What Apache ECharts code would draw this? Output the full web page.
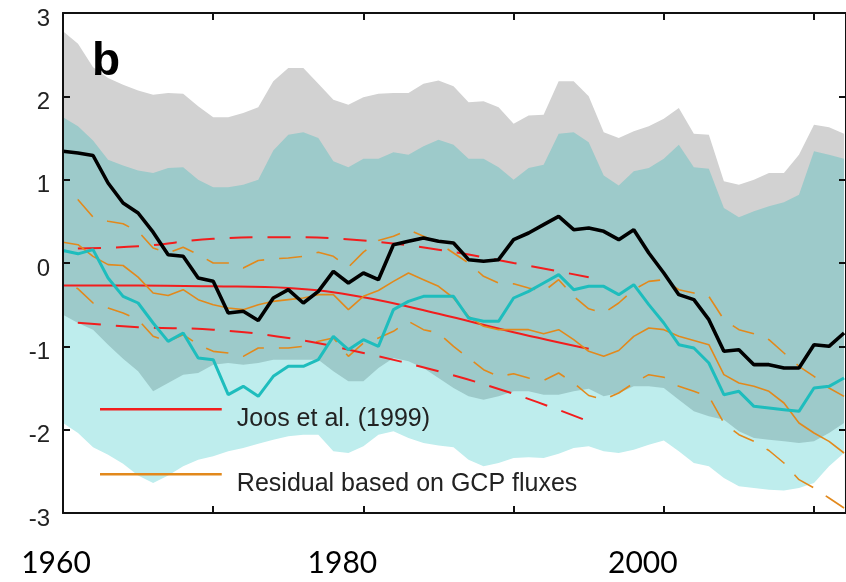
<!DOCTYPE html>
<html><head><meta charset="utf-8">
<script src="https://cdn.jsdelivr.net/npm/echarts@6/dist/echarts.min.js"></script>
<style>html,body{margin:0;padding:0;background:#fff}#c{width:846px;height:582px}</style>
</head><body><div id="c"></div>
<script>
const years = [1960,1961,1962,1963,1964,1965,1966,1967,1968,1969,1970,1971,1972,1973,1974,1975,1976,1977,1978,1979,1980,1981,1982,1983,1984,1985,1986,1987,1988,1989,1990,1991,1992,1993,1994,1995,1996,1997,1998,1999,2000,2001,2002,2003,2004,2005,2006,2007,2008,2009,2010,2011,2012];

const blackLine = [1.34,1.32,1.29,0.96,0.72,0.60,0.37,0.10,0.08,-0.18, -0.22,-0.60,-0.58,-0.69,-0.42,-0.32,-0.48,-0.34,-0.10,-0.24, -0.12,-0.20,0.22,0.26,0.30,0.26,0.24,0.04,0.02,0.04, 0.28,0.36,0.46,0.56,0.40,0.42,0.38,0.28,0.40,0.12, -0.12,-0.38,-0.44,-0.68,-1.06,-1.04,-1.22,-1.22,-1.26,-1.26, -0.98,-1.00,-0.84];
const cyanLine = [0.15,0.11,0.16,-0.18,-0.40,-0.48,-0.72,-0.94,-0.84,-1.14, -1.16,-1.58,-1.48,-1.60,-1.36,-1.24,-1.24,-1.16,-0.88,-1.04, -0.92,-1.00,-0.56,-0.46,-0.40,-0.40,-0.40,-0.66,-0.70,-0.70, -0.42,-0.34,-0.24,-0.14,-0.32,-0.28,-0.28,-0.38,-0.26,-0.50, -0.72,-0.98,-1.02,-1.20,-1.58,-1.54,-1.72,-1.74,-1.76,-1.78, -1.50,-1.48,-1.38];
const residualMid = [0.25,0.22,0.08,-0.02,-0.03,-0.17,-0.36,-0.39,-0.32,-0.44, -0.50,-0.54,-0.56,-0.50,-0.46,-0.44,-0.42,-0.38,-0.38,-0.56, -0.40,-0.33,-0.22,-0.12,-0.20,-0.28,-0.42,-0.64,-0.76,-0.80, -0.80,-0.80,-0.85,-0.80,-0.92,-1.06,-1.12,-1.05,-0.88,-0.78, -0.80,-0.88,-0.93,-0.98,-1.34,-1.44,-1.48,-1.54,-1.68,-1.92, -2.04,-2.14,-2.28];
const residualUpper = [0.80,0.76,0.55,0.50,0.47,0.38,0.18,0.12,0.19,0.10, 0.00,0.00,-0.06,0.03,0.05,0.06,0.08,0.13,0.08,-0.05, 0.13,0.27,0.32,0.40,0.32,0.24,0.12,0.00,-0.16,-0.24, -0.25,-0.30,-0.34,-0.20,-0.40,-0.55, -0.60,-0.48,-0.32,-0.22, -0.20,-0.32,-0.36,-0.40,-0.68,-0.80,-0.85,-0.92,-1.08,-1.24, -1.36,-1.50,-1.60];
const residualLower = [-0.22,-0.31,-0.48,-0.54,-0.60,-0.68,-0.88,-0.94,-0.86,-0.98, -1.06,-1.08,-1.12,-1.02,-1.02,-1.02,-1.00,-0.94,-0.90,-1.12, -0.96,-0.90,-0.82,-0.70,-0.80,-0.84,-1.00,-1.14,-1.28,-1.36, -1.33,-1.38,-1.41,-1.32,-1.44,-1.59,-1.64,-1.56,-1.44,-1.34, -1.37,-1.48,-1.54,-1.60,-1.92,-2.06,-2.14,-2.25,-2.40,-2.60, -2.70,-2.82,-2.94];

const joosYears = [1960,1965,1970,1975,1980,1985,1990,1995];
const joosMid = [-0.27,-0.27,-0.28,-0.30,-0.41,-0.61,-0.83,-1.03];
const joosUpper = [0.17,0.20,0.29,0.31,0.27,0.16,0.00,-0.17];
const joosLower = [-0.70,-0.77,-0.80,-0.90,-1.08,-1.30,-1.57,-1.90];

const grayUpper = [2.78,2.63,2.35,2.22,2.14,2.07,2.02,2.04,2.03,1.88, 1.75,1.75,1.80,1.87,2.18,2.34,2.34,2.15,1.96,1.90, 1.99,2.03,2.04,2.04,2.15,2.19,2.12,1.93,1.94,1.87, 1.67,1.77,1.78,2.18,2.18,2.00,1.57,1.50,1.58,1.64, 1.73,1.86,1.55,1.54,0.98,0.94,1.00,1.08,1.08,1.30, 1.66,1.63,1.55];
const grayLower = [-0.62,-0.72,-0.80,-0.98,-1.15,-1.30,-1.54,-1.44,-1.34,-1.32, -1.22,-1.20,-1.22,-1.20,-1.16,-1.16,-1.16,-1.16,-1.30,-1.42, -1.42,-1.26,-1.14,-1.18,-1.26,-1.38,-1.50,-1.60,-1.64,-1.60, -1.54,-1.54,-1.58,-1.58,-1.54,-1.51,-1.60,-1.56,-1.48,-1.48, -1.50,-1.64,-1.78,-1.84,-1.88,-2.02,-2.10,-2.12,-2.14,-2.16, -2.14,-2.04,-1.92];
const cyanUpper = [1.75,1.64,1.47,1.24,1.17,1.11,1.08,1.14,1.15,1.00, 0.91,0.91,0.94,1.00,1.35,1.54,1.57,1.50,1.22,1.15, 1.25,1.25,1.33,1.30,1.40,1.48,1.42,1.25,1.25,1.15, 1.00,1.14,1.18,1.55,1.57,1.45,1.05,0.93,1.10,1.14, 1.25,1.42,1.15,1.13,0.66,0.55,0.62,0.68,0.73,0.82, 1.34,1.30,1.25];
const cyanLower = [-1.92,-2.04,-2.21,-2.30,-2.41,-2.55,-2.64,-2.55,-2.44,-2.36, -2.32,-2.26,-2.22,-2.17,-2.12,-2.08,-2.06,-2.06,-2.26,-2.28, -2.20,-2.06,-2.02,-2.10,-2.16,-2.19,-2.21,-2.36,-2.44,-2.40, -2.34,-2.33,-2.34,-2.29,-2.22,-2.20,-2.26,-2.28,-2.24,-2.18, -2.13,-2.26,-2.40,-2.44,-2.58,-2.68,-2.70,-2.72,-2.73,-2.70, -2.64,-2.44,-2.28];

const yTickLabels = ['-3','-2','-1','0','1','2','3'];
const xTickLabels = [1960, 1980, 2000];
const legendNames = ['Joos et al. (1999)', 'Residual based on GCP fluxes'];

const pairs = (xs, ys) => xs.map((x, i) => [x, ys[i]]);

const RED = '#f21d1d', ORANGE = '#e2891c', CYAN = '#1ebdbd';
const dash = [23, 15];

function band(name, arr, color) {
  return {
    name, type: 'line', data: pairs(years, arr), symbol: 'none', silent: true,
    lineStyle: { width: 0, opacity: 0 },
    areaStyle: { color, opacity: 1, origin: 'start' }, z: 1
  };
}
function line(name, xs, arr, color, width, type, z, smooth) {
  return {
    name, type: 'line', data: pairs(xs, arr), symbol: 'none', silent: true,
    smooth: smooth || false,
    itemStyle: { color },
    lineStyle: { color, width, type: type || 'solid', dashOffset: type ? 23 : 0 }, z
  };
}

const chart = echarts.init(document.getElementById('c'), null, { renderer: 'canvas' });
const axisLineStyle = { color: '#111', width: 2 };
const legendIcon = 'path://M0,0L122,0L122,2.5L0,2.5Z M0,23L0.05,23L0.05,23.05L0,23.05Z';
const legendText = { fontFamily: 'Liberation Sans', fontSize: 25, color: '#222', padding: [0, 0, 0, 10] };
chart.setOption({
  animation: false,
  backgroundColor: '#fff',
  grid: { left: 63, top: 13, width: 784, height: 500, containLabel: false },
  xAxis: [{
    type: 'value', min: 1960, max: 2012.13, interval: 10, position: 'bottom', z: 10,
    splitLine: { show: false },
    axisLine: { show: true, onZero: false, lineStyle: axisLineStyle },
    axisTick: { show: true, inside: true, length: 7, lineStyle: axisLineStyle },
    axisLabel: {
      margin: 35, showMinLabel: true, showMaxLabel: false,
      formatter: v => {
        if (!xTickLabels.includes(v)) return '';
        return v === 1960 ? '{a|' + v + '}' : '{b|' + v + '}';
      },
      rich: {
        a: { fontFamily: 'Lato', fontSize: 30, color: '#000', padding: [0, 14, 0, 0] },
        b: { fontFamily: 'Lato', fontSize: 30, color: '#000', padding: [0, 42, 0, 0] }
      }
    }
  }, {
    type: 'value', min: 1960, max: 2012.13, interval: 10, position: 'top', z: 10,
    splitLine: { show: false },
    axisLine: { show: true, onZero: false, lineStyle: axisLineStyle },
    axisTick: { show: true, inside: true, length: 7, lineStyle: axisLineStyle },
    axisLabel: { show: false }
  }],
  yAxis: [{
    type: 'value', min: -3, max: 3, interval: 1, position: 'left', z: 10,
    splitLine: { show: false },
    axisLine: { show: true, onZero: false, lineStyle: axisLineStyle },
    axisTick: { show: true, inside: true, length: 7, lineStyle: axisLineStyle },
    axisLabel: {
      margin: 13, fontFamily: 'Liberation Sans', fontSize: 24, color: '#222',
      verticalAlign: 'top', lineHeight: 12,
      formatter: v => yTickLabels[Math.round(v) + 3]
    }
  }, {
    type: 'value', min: -3, max: 3, interval: 1, position: 'right', z: 10,
    splitLine: { show: false },
    axisLine: { show: true, onZero: false, lineStyle: axisLineStyle },
    axisTick: { show: true, inside: true, length: 7, lineStyle: axisLineStyle },
    axisLabel: { show: false }
  }],
  legend: [{
    data: [legendNames[0]], orient: 'vertical', left: 95, top: 402,
    icon: legendIcon, itemWidth: 122, itemHeight: 23, selectedMode: false,
    textStyle: legendText
  }, {
    data: [legendNames[1]], orient: 'vertical', left: 95, top: 467,
    icon: legendIcon, itemWidth: 122, itemHeight: 23, selectedMode: false,
    textStyle: legendText
  }],
  graphic: [{
    type: 'text', left: 92, top: 39, z: 20,
    style: { text: 'b', font: 'bold 46px "Liberation Sans"', fill: '#000' }
  }],
  series: [
    band('grayTop', grayUpper, '#d2d2d2'),
    band('tealTop', cyanUpper, '#9dcaca'),
    band('cyanMid', grayLower, '#beeded'),
    band('whiteBottom', cyanLower, '#ffffff'),
    line('Residual upper', years, residualUpper, ORANGE, 1.6, dash, 3),
    line('Residual lower', years, residualLower, ORANGE, 1.6, dash, 3),
    line('Joos upper', joosYears, joosUpper, RED, 2, dash, 4, 0.4),
    line('Joos lower', joosYears, joosLower, RED, 2, dash, 4, 0.4),
    line(legendNames[0], joosYears, joosMid, RED, 2, null, 4, 0.4),
    line(legendNames[1], years, residualMid, ORANGE, 1.6, null, 5),
    line('Cyan', years, cyanLine, CYAN, 3, null, 6),
    line('Black', years, blackLine, '#000', 3.6, null, 7)
  ]
});
</script></body></html>
